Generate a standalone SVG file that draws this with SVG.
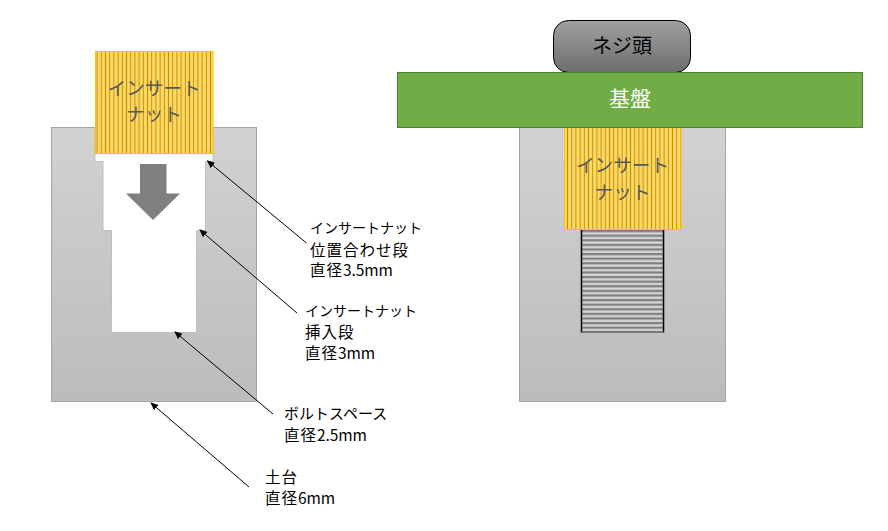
<svg xmlns="http://www.w3.org/2000/svg" width="888" height="531" viewBox="0 0 888 531">
<style>
text{font-family:"Noto Sans CJK JP","Liberation Sans",sans-serif}
.lbl{font-size:14px;fill:#000}
.kana{font-size:15px;fill:#000}
.kj{font-size:15.5px;letter-spacing:1px;fill:#000}
.num{letter-spacing:-.1px}
.nut{font-size:18.6px;fill:#595959;text-anchor:middle}
.body{fill:url(#bodyGrad);stroke:#a6a6a6;stroke-width:1}
.cav{fill:#fff;stroke:#bfbfbf;stroke-width:1}
.nutbox{fill:url(#vstripe);stroke:#ffc000;stroke-width:1}
.conn{fill:none;stroke:#000;stroke-width:1;marker-end:url(#ah)}
</style>
<defs>
<linearGradient id="bodyGrad" x1="0" y1="0" x2="0" y2="1"><stop offset="0" stop-color="#d2d2d2"/><stop offset="1" stop-color="#bcbcbc"/></linearGradient>
<linearGradient id="headGrad" x1="0" y1="0" x2="0" y2="1"><stop offset="0" stop-color="#a0a0a0"/><stop offset="1" stop-color="#6e6e6e"/></linearGradient>
<pattern id="vstripe" patternUnits="userSpaceOnUse" x="95" y="0" width="4.2" height="10"><rect width="4.2" height="10" fill="#ffd966"/><rect x="1.6" width="1" height="10" fill="#bf9000"/></pattern>
<pattern id="hstripe" patternUnits="userSpaceOnUse" x="0" y="230" width="10" height="4.6"><rect width="10" height="4.6" fill="#d4d4d4"/><rect y="0" width="10" height="2.2" fill="#808080"/></pattern>
<marker id="ah" markerWidth="8" markerHeight="8" refX="7" refY="3.5" orient="auto" markerUnits="userSpaceOnUse"><path d="M0 0L8 3.500L0 7z" fill="#000"/></marker>
</defs>
<g id="left-base"><rect class="body" x="51.5" y="127.5" width="205" height="274"/></g>
<g id="left-cavity"><path class="cav" d="M95 127V161.500H103V230.500H111.500V332.500H196.500V230.500H205.500V161.500H213V127z"/></g>
<g id="left-nut"><rect class="nutbox" x="95.500" y="51.500" width="117.500" height="102"/><text class="nut" x="154" y="95">インサート</text><text class="nut" x="154" y="121">ナット</text></g>
<g id="down-arrow"><path d="M140 164H166.500V193.500H180L153 220L126 193.500H140z" fill="#7f7f7f"/></g>
<g id="right-base"><rect class="body" x="519.500" y="127.500" width="206" height="274"/></g>
<g id="right-cavity"><rect x="563" y="127" width="119" height="34" fill="#fff" stroke="#bfbfbf"/></g>
<g id="bolt"><rect x="580.500" y="229" width="84" height="104.500" fill="none" stroke="#bfbfbf"/><rect x="581.500" y="229" width="82" height="103" fill="url(#hstripe)"/><path d="M581.500 229V332.500M663.500 229V332.500" stroke="#000" stroke-width="1.500" fill="none"/><path d="M581.500 332H663.500" stroke="#666" stroke-width="1.500" fill="none"/></g>
<g id="right-nut"><rect class="nutbox" x="564.500" y="127.500" width="116.500" height="102"/><text class="nut" x="622.500" y="172">インサート</text><text class="nut" x="622.500" y="199">ナット</text></g>
<g id="screw-head"><rect x="553.500" y="20.500" width="137" height="52" rx="15" fill="url(#headGrad)" stroke="#000"/><text x="622" y="53" font-size="20" text-anchor="middle" fill="#000">ネジ頭</text></g>
<g id="board"><rect x="397.500" y="72.500" width="465" height="55" fill="#70ad47" stroke="#507e32"/><text x="630" y="106" font-size="21" text-anchor="middle" fill="#fff">基盤</text></g>
<g id="connectors">
<path class="conn" d="M306.500 243L207.500 161"/>
<path class="conn" d="M297 313L200 230"/>
<path class="conn" d="M273 414L175 332"/>
<path class="conn" d="M249 487L151 403"/>
</g>
<g id="labels">
<text class="lbl" x="310" y="233">インサートナット</text><text class="kj" x="310" y="256">位置合わせ段</text><text class="kj" x="310" y="276">直径<tspan class="num">3.5mm</tspan></text>
<text class="lbl" x="305" y="316">インサートナット</text><text class="kj" x="305" y="338">挿入段</text><text class="kj" x="305" y="359">直径<tspan class="num">3mm</tspan></text>
<text class="kana" x="284" y="419">ボルトスペース</text><text class="kj" x="284" y="441">直径<tspan class="num">2.5mm</tspan></text>
<text class="kj" x="265" y="483">土台</text><text class="kj" x="265" y="504">直径<tspan class="num">6mm</tspan></text>
</g>
</svg>
